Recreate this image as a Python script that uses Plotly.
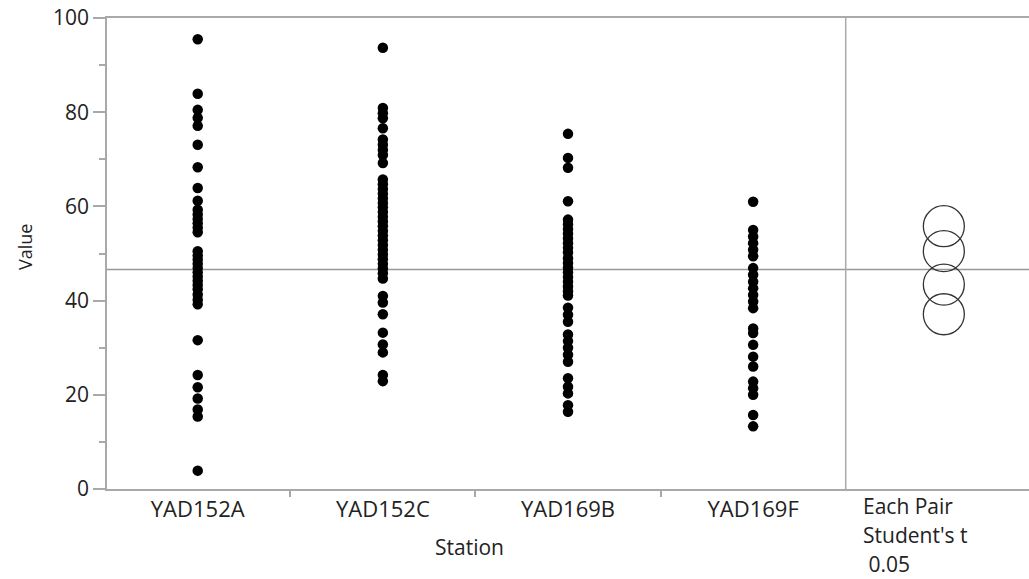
import plotly.graph_objects as go

# ---- data ----
stations = ["YAD152A", "YAD152C", "YAD169B", "YAD169F"]

yad152a = [95.5, 83.9, 80.5, 78.8, 77.1, 73.1, 68.3, 63.9, 61.2, 59.3, 58.3, 57.3,
           56.4, 55.5, 54.5, 50.5, 49.6, 48.7, 47.8, 46.9, 46.0, 45.1, 44.2, 43.3,
           42.4, 41.3, 40.2, 39.2, 31.6, 24.2, 21.6, 19.2, 16.9, 15.4, 3.9]
yad152c = [93.7, 80.9, 79.8, 78.7, 76.6, 74.2, 73.1, 72.0, 70.9, 69.2, 65.7, 64.7,
           63.7, 62.7, 61.7, 60.7, 59.8, 58.8, 57.8, 56.8, 55.8, 54.8, 53.8, 52.8,
           51.8, 50.8, 49.8, 48.8, 47.8, 46.8, 45.8, 44.7, 41.0, 39.6, 37.1, 33.2,
           30.7, 29.0, 24.2, 22.9]
yad169b = [75.4, 70.3, 68.2, 61.1, 57.2, 56.2, 55.2, 54.2, 53.2, 52.2, 51.2, 50.2,
           49.0, 48.0, 47.0, 46.0, 45.0, 44.0, 43.0, 42.0, 41.1, 38.5, 37.0, 35.5,
           32.8, 31.4, 30.0, 28.5, 27.0, 23.5, 21.7, 20.3, 17.8, 16.4]
yad169f = [61.0, 55.0, 53.6, 52.2, 50.8, 49.4, 46.9, 45.5, 44.0, 42.6, 41.2, 39.8,
           38.4, 34.1, 33.1, 30.6, 28.1, 26.0, 22.8, 21.4, 20.0, 15.7, 13.3]

circle_means = [55.8, 50.5, 43.4, 37.1]   # comparison circles (Each Pair Student's t)
grand_mean = 46.6
y_ticks = [0, 20, 40, 60, 80, 100]
compare_label = ["Each Pair", "Student's t", " 0.05"]

groups = [yad152a, yad152c, yad169b, yad169f]

FONT = "Open Sans"
GRAY = "#a9a9a9"
TXT = "#222222"

fig = go.Figure()

for i, vals in enumerate(groups):
    fig.add_trace(go.Scatter(
        x=[i] * len(vals), y=vals, mode="markers",
        marker=dict(color="black", size=10.5, line=dict(width=0)),
        showlegend=False, hoverinfo="y"))

fig.add_trace(go.Scatter(
    x=[4.03] * len(circle_means), y=circle_means, mode="markers",
    marker=dict(symbol="circle-open", size=41, color="#333333", line=dict(width=1.3)),
    showlegend=False))

# grand mean line and separator
fig.add_shape(type="line", xref="paper", x0=0, x1=1, yref="y", y0=grand_mean, y1=grand_mean,
              line=dict(color="#999999", width=1.5), layer="below")
fig.add_shape(type="line", xref="x", x0=3.5, x1=3.5, yref="paper", y0=0, y1=1,
              line=dict(color=GRAY, width=1.5), layer="below")

fig.update_xaxes(
    range=[-0.49, 4.49], showgrid=False, zeroline=False, automargin=False,
    showline=True, linecolor=GRAY, linewidth=1.5, mirror=True,
    tickvals=list(range(len(stations))), ticktext=stations, ticks="",
    tickfont=dict(family=FONT, size=22, color=TXT),
    minor=dict(tickvals=[0.5, 1.5, 2.5], ticks="outside", ticklen=6,
               tickcolor=GRAY, tickwidth=1.5, showgrid=False),
    ticklabelstandoff=0, ticklabeloverflow="allow",
)
fig.update_yaxes(
    range=[0, 100], showgrid=False, zeroline=False, automargin=False,
    showline=True, linecolor=GRAY, linewidth=1.5,
    tickvals=y_ticks, ticks="outside", ticklen=12, tickcolor=GRAY, tickwidth=1.5,
    tickfont=dict(family=FONT, size=21, color=TXT),
    minor=dict(dtick=10, ticks="outside", ticklen=6, tickcolor=GRAY, tickwidth=1.5,
               showgrid=False),
    ticklabeloverflow="allow",
)

ann = [
    dict(text="Value", xref="paper", yref="paper", x=(25 - 107) / 922, y=(489 - 247) / 471,
         textangle=-90, showarrow=False, xanchor="center", yanchor="middle",
         font=dict(family=FONT, size=18, color=TXT)),
    dict(text="Station", xref="x", yref="paper", x=1.47, y=-(547 - 489) / 471,
         showarrow=False, xanchor="center", yanchor="middle",
         font=dict(family=FONT, size=21, color=TXT)),
]
for k, line in enumerate(compare_label):
    ann.append(dict(text=line, xref="x", yref="paper", x=3.58,
                    y=-(506 + 29 * k - 489) / 471, showarrow=False,
                    xanchor="left", yanchor="middle",
                    font=dict(family=FONT, size=21, color=TXT)))

fig.update_layout(
    width=1029, height=579,
    margin=dict(l=107, r=0, t=18, b=90),
    paper_bgcolor="white", plot_bgcolor="white",
    annotations=ann,
)

# remove the default 8px body margin so the figure fills the window exactly
fig.write_html("out.html", config={"displayModeBar": False},
               post_script="document.body.style.margin='0';document.body.style.overflow='hidden';")
